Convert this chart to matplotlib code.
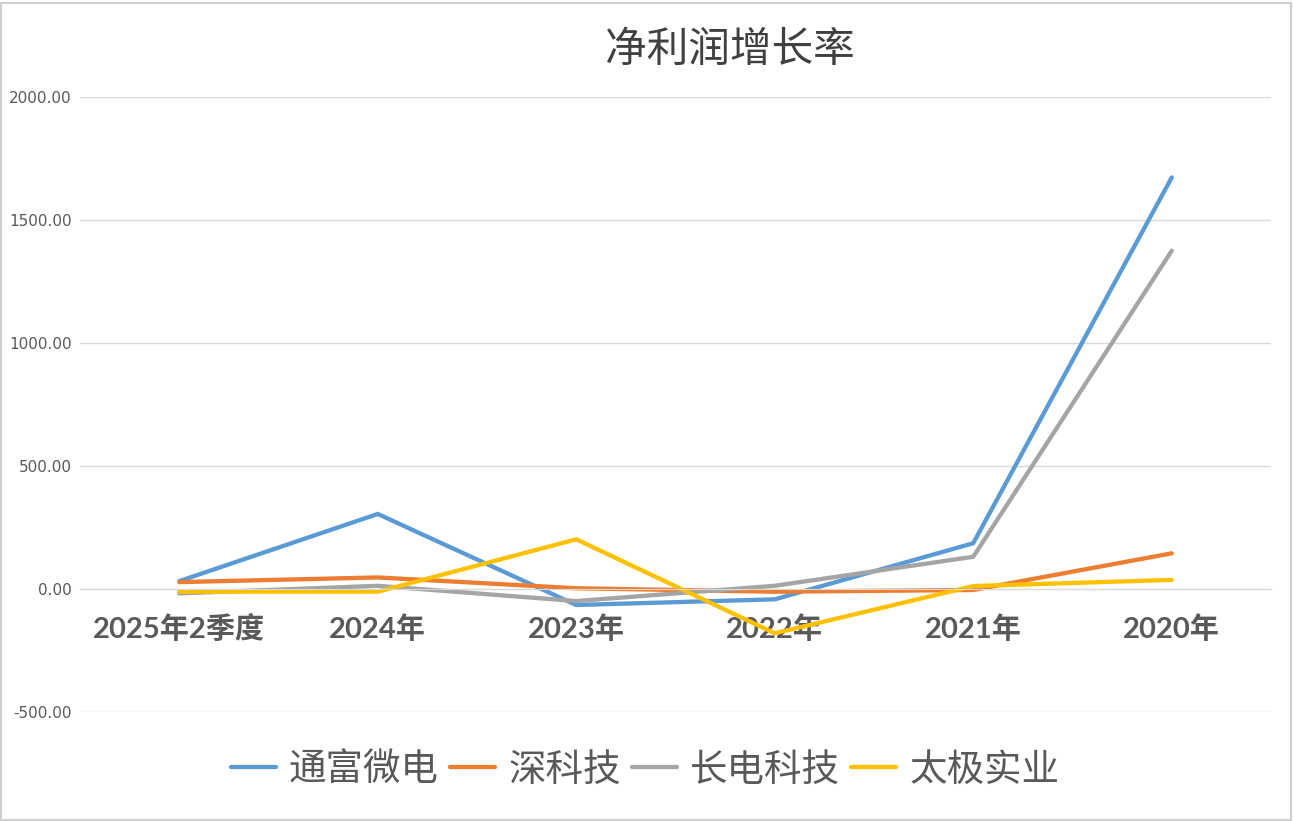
import numpy as np
import matplotlib.pyplot as plt
from matplotlib.patches import Rectangle

plt.rcParams['font.family'] = ['Noto Sans CJK SC', 'DejaVu Sans']

# data
categories = ['2025年2季度', '2024年', '2023年', '2022年', '2021年', '2020年']
tongfu = [32, 305, -65, -42, 186, 1673]
shenkeji = [28, 47, 3, -11, -4, 145]
changdian = [-18, 13, -49, 13, 131, 1375]
taiji = [-11, -11, 202, -180, 12, 37]
series_names = ['通富微电', '深科技', '长电科技', '太极实业']
colors = ['#5B9BD5', '#ED7D31', '#A5A5A5', '#FFC000']
yticks = [-500, 0, 500, 1000, 1500, 2000]

fig = plt.figure(figsize=(12.94, 8.21), dpi=100)
ax = fig.add_axes([80/1294, 109/821, 1191/1294, 615/821])

x = np.arange(len(categories))
for vals, name, c in zip([tongfu, shenkeji, changdian, taiji], series_names, colors):
    ax.plot(x, vals, color=c, lw=3.1, label=name, solid_capstyle='round', solid_joinstyle='miter')

ax.set_xlim(-0.5, len(categories) - 0.5)
ax.set_ylim(-500, 2000)
ax.set_yticks(yticks)
ax.set_yticklabels([f'{v:.2f}' for v in yticks], fontsize=11, color='#595959', family='DejaVu Sans')
ax.grid(axis='y', color='#D9D9D9', lw=1)
ax.set_axisbelow(True)
ax.tick_params(axis='y', length=0, pad=6)

ax.spines['bottom'].set_position(('data', 0))
ax.spines['bottom'].set_color('#D9D9D9')
for s in ['top', 'right', 'left']:
    ax.spines[s].set_visible(False)
ax.set_xticks(x)
ax.set_xticklabels(categories, fontsize=21, fontweight='bold', color='#595959',
                   family=['Lato', 'Noto Sans CJK SC'])
ax.tick_params(axis='x', length=0, pad=19)

fig.text(730/1294, 1 - 50/821, '净利润增长率', ha='center', va='center',
         fontsize=30, color='#404040')

fig.legend(loc='center', bbox_to_anchor=(645/1294, 1 - 770/821), ncol=4, frameon=False,
           fontsize=27, handlelength=1.2, handletextpad=0.35, columnspacing=0.3,
           labelcolor='#595959')

fig.add_artist(Rectangle((0.001, 0.001), 0.997, 0.995, transform=fig.transFigure,
                         fill=False, edgecolor='#D0D0D0', lw=1.5))

fig.savefig('out.png', dpi=100)
